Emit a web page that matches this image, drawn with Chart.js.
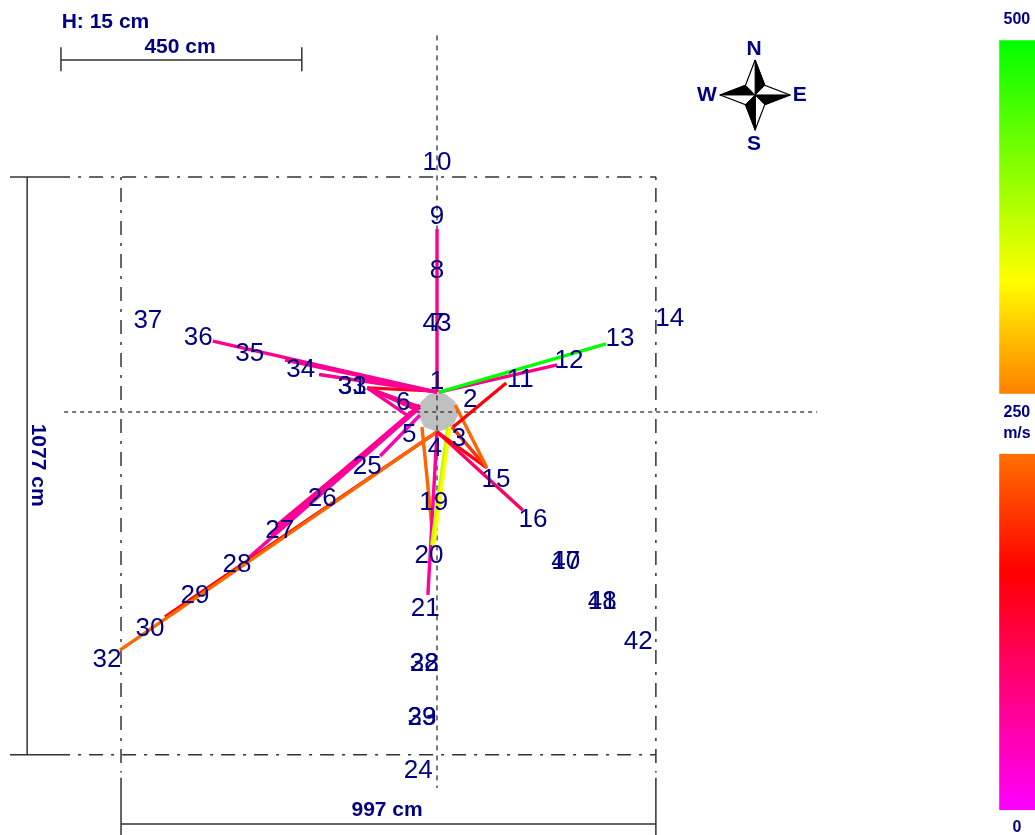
<!DOCTYPE html>
<html>
<head>
<meta charset="utf-8">
<style>html,body{margin:0;padding:0;background:#fff}canvas{display:block}</style>
<script src="https://cdn.jsdelivr.net/npm/chart.js@4"></script>
</head>
<body>
<canvas id="c" width="1035" height="835"></canvas>
<script>
// sensor labels and positions (cm from trunk centre)
const sensorNames = ['1','2','3','4','5','6','7','8','9','10','11','12','13','14','15','16','17','18','19','20','21','22','23','24','25','26','27','28','29','30','31','32','33','34','35','36','37','38','39','40','41','42','43'];
const sensorX = [0,62,41,-4,-52,-63,0,0,0,0,155,246,341,434,110,179,240,308,-6,-15,-22,-24,-28,-35,-130,-214,-293,-373,-451,-535,-158,-615,-158,-254,-349,-445,-539,-24,-28,240,308,375,0];
const sensorY = [60,26,-47,-65,-39,21,168,267,367,468,63,99,140,177,-123,-198,-276,-350,-166,-265,-363,-466,-567,-665,-99,-158,-218,-281,-339,-401,50,-459,50,82,112,142,173,-466,-567,-276,-350,-425,168];

// measured paths: start, end (cm) and sound speed (m/s)
const pathX1 = [0,  4,  4, 30, 34, 28,  0,  0, 24, 20,  0,-28,  0,  0,-37,-32,-35,-32,-32,  0,  0,  0,  0,-37,-32,  0,-56,-56];
const pathY1 = [37, 37, 37,-28, 13,-28,-37,-37,-28,-30,-37,-28,-37,-37,  4,  9,  7, 13, -6, 37, 37, 37, 37,  4,  9, 39, -6, -6];
const pathX2 = [0,315,224,129, 93, 93, 93,160, -6,-10,-17, -7,-591,-507,-349,-311,-300,-250,-106,-418,-283,-220,-140,-130,-130,-130,-130,-32];
const pathY2 = [341,127,88, 54,-104,-104,-104,-183,-248,-248,-341,-239,-444,-382,-270,-229,-212,-173,-82,132, 97, 70, 63, 45, 45, 45, 45,  9];
const pathSpeed = [78,500,78,160,233,200,150,104,330,380,65,233,233,160,60,72,75,75,50,72,72,72,72,75,75,150,70,70];
// paths drawn later lie on top of earlier ones
const pathDrawOrder = [26,27,25,24,23,22,21,20,19,18,17,16,15,14,13,12,11,10,9,8,7,6,5,4,3,2,1,0];

// speed colour scale stops
const stopSpeed = [0,167,250,330,500];
const stopRGB = [[255,0,255],[255,0,0],[255,128,0],[255,255,0],[0,255,0]];

// trunk outline (cm)
const trunkX = [4,17,34,39,28,0,-24,-37,-30,-15,4];
const trunkY = [37,33,19,-6,-30,-37,-28,-2,19,33,37];

// axis frame
const frameLeft=-589, frameRight=408, frameTop=438, frameBottom=-639;

function speedColor(v){
  for(let i=1;i<stopSpeed.length;i++){
    if(v<=stopSpeed[i]){
      const t=(v-stopSpeed[i-1])/(stopSpeed[i]-stopSpeed[i-1]);
      const a=stopRGB[i-1],b=stopRGB[i];
      return 'rgb('+a.map((c,k)=>Math.round(c+(b[k]-c)*t)).join(',')+')';
    }
  }
  return 'rgb(0,255,0)';
}
function line(pts,color,width,dash,order){
  return {type:'scatter',showLine:true,data:pts.map(p=>({x:p[0],y:p[1]})),borderColor:color,borderWidth:width,borderDash:dash||[],pointRadius:0,tension:0,fill:false,order:order};
}
function poly(pts,fillColor,borderColor,width,order){
  return {type:'scatter',showLine:true,data:pts.map(p=>({x:p[0],y:p[1]})),borderColor:borderColor,backgroundColor:fillColor,borderWidth:width,pointRadius:0,tension:0,fill:'shape',order:order};
}
const ds=[];
ds.push(poly(trunkX.map((x,i)=>[x,trunkY[i]]),'#c0c0c0','#c0c0c0',0,60));
const dotted=[4,4], dashDot=[3,8,14,8], ink='#333333';
ds.push(line([[-695,0],[709,0]],'#222',1.2,dotted,55));
ds.push(line([[0,702],[0,-701]],'#222',1.2,[5,5],55));
// frame
ds.push(line([[-796,frameTop],[-684,frameTop]],ink,1.5,[],50));
ds.push(line([[-669,frameTop],[frameRight,frameTop]],ink,1.5,dashDot,50));
ds.push(line([[-796,frameBottom],[-684,frameBottom]],ink,1.5,[],50));
ds.push(line([[-669,frameBottom],[frameRight,frameBottom]],ink,1.5,dashDot,50));
ds.push(line([[frameLeft,frameTop],[frameLeft,-672]],ink,1.5,dashDot,50));
ds.push(line([[frameRight,frameTop],[frameRight,-672]],ink,1.5,dashDot,50));
ds.push(line([[frameLeft,-682],[frameLeft,-790]],ink,1.5,[],50));
ds.push(line([[frameRight,-682],[frameRight,-790]],ink,1.5,[],50));
// dimensions
ds.push(line([[-764,frameTop],[-764,frameBottom]],ink,1.5,[],50));
ds.push(line([[frameLeft,-768],[frameRight,-768]],ink,1.5,[],50));
// scale bar
ds.push(line([[-701,656],[-252,656]],ink,1.5,[],50));
ds.push(line([[-701,680],[-701,635]],ink,1.5,[],50));
ds.push(line([[-252,680],[-252,635]],ink,1.5,[],50));
// compass
const N=[593,656],E=[658,591],S=[593,526],W=[528,591],NE=[611,609],SE=[611,573],SW=[575,573],NW=[575,609],C=[593,591];
ds.push(poly([N,NE,C,N],'#000','#000',1,40));
ds.push(poly([E,SE,C,E],'#000','#000',1,40));
ds.push(poly([S,SW,C,S],'#000','#000',1,40));
ds.push(poly([W,NW,C,W],'#000','#000',1,40));
ds.push(line([N,NE,E,SE,S,SW,W,NW,N],'#000',1.2,[],39));
// paths
pathX1.forEach((x,i)=>{
  ds.push(line([[x,pathY1[i]],[pathX2[i],pathY2[i]]],speedColor(pathSpeed[i]),3.4,[],30-pathDrawOrder[i]));
});

const boldFont='bold 21px "Liberation Sans"', smallFont='bold 16px "Liberation Sans"';
const texts=[
 ['H: 15 cm',-618,727,boldFont],
 ['450 cm',-479,680,boldFont],
 ['997 cm',-93,-743,boldFont],
 ['N',591,677,boldFont],
 ['S',591,-91+591,boldFont],
 ['E',676,591,boldFont],
 ['W',503,591,boldFont],
 ['500',1081,731,smallFont],
 ['250',1081,-2,smallFont],
 ['m/s',1081,-41,smallFont],
 ['0',1081,-775,smallFont]
];

const extras={
  id:'extras',
  beforeDatasetsDraw(chart){
    const c=chart.ctx,xs=chart.scales.x,ys=chart.scales.y;
    const bar=(top,bottom,stops)=>{
      const x0=xs.getPixelForValue(1048),x1=xs.getPixelForValue(1115);
      const y0=ys.getPixelForValue(top),y1=ys.getPixelForValue(bottom);
      const g=c.createLinearGradient(0,y0,0,y1);
      stops.forEach(s=>g.addColorStop(s[0],s[1]));
      c.fillStyle=g;c.fillRect(x0,y0,x1-x0,y1-y0);
    };
    bar(693,34,[[0,'#00ff00'],[0.678,'#ffff00'],[1,'#ff8000']]);
    bar(-78,-742,[[0,'#ff7000'],[0.33,'#ff0000'],[1,'#ff00ff']]);
  },
  afterDatasetsDraw(chart){
    const c=chart.ctx,xs=chart.scales.x,ys=chart.scales.y;
    c.save();
    c.fillStyle='#000080';c.textAlign='center';c.textBaseline='middle';
    c.font='26px "Liberation Sans"';
    sensorNames.forEach((n,i)=>c.fillText(n,xs.getPixelForValue(sensorX[i]),ys.getPixelForValue(sensorY[i])+2));
    texts.forEach(t=>{c.font=t[3];c.fillText(t[0],xs.getPixelForValue(t[1]),ys.getPixelForValue(t[2]));});
    c.translate(xs.getPixelForValue(-744),ys.getPixelForValue(-99));
    c.rotate(Math.PI/2);
    c.font=boldFont;
    c.fillText('1077 cm',0,0);
    c.restore();
  }
};

new Chart(document.getElementById('c'),{
  type:'scatter',
  data:{datasets:ds},
  plugins:[extras],
  options:{
    responsive:false,animation:false,
    layout:{padding:0},
    plugins:{legend:{display:false},tooltip:{enabled:false},title:{display:false}},
    scales:{
      x:{type:'linear',display:false,min:-814.6,max:1114.7},
      y:{type:'linear',display:false,min:-788.5,max:768}
    }
  }
});
</script>
</body>
</html>
